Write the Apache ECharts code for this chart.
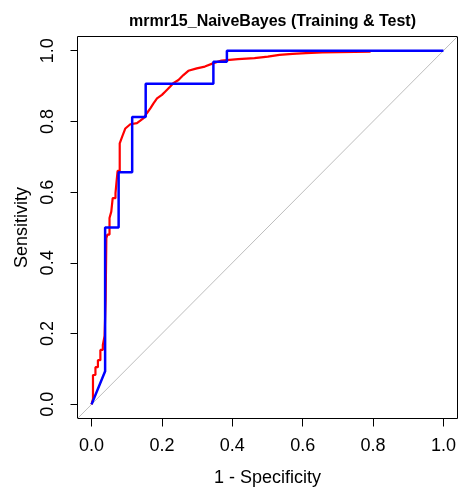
<!DOCTYPE html>
<html>
<head>
<meta charset="utf-8">
<script src="https://cdn.jsdelivr.net/npm/echarts@6/dist/echarts.min.js"></script>
<style>html,body{margin:0;padding:0;background:#fff;}#chart{width:459px;height:487px;}</style>
</head>
<body>
<div id="chart"></div>
<script>
const titleText = "mrmr15_NaiveBayes (Training & Test)";
const xName = "1 - Specificity";
const yName = "Sensitivity";
const tickValues = [0, 0.2, 0.4, 0.6, 0.8, 1.0];

// Training ROC (red): 1 - specificity
const trainX = [0.0, 0.004, 0.004, 0.011, 0.011, 0.018, 0.018, 0.025, 0.025, 0.032, 0.032, 0.037, 0.037, 0.040, 0.040, 0.042, 0.042, 0.045, 0.045, 0.051, 0.051, 0.056, 0.056, 0.060, 0.060, 0.068, 0.068, 0.071, 0.071, 0.074, 0.074, 0.080, 0.080, 0.087, 0.096, 0.110, 0.129, 0.148, 0.157, 0.167, 0.176, 0.186, 0.200, 0.209, 0.223, 0.232, 0.247, 0.261, 0.275, 0.299, 0.322, 0.345, 0.369, 0.416, 0.463, 0.501, 0.534, 0.571, 0.609, 0.656, 0.793];
// Training ROC (red): sensitivity
const trainY = [0.0, 0.015, 0.083, 0.083, 0.105, 0.105, 0.125, 0.125, 0.154, 0.154, 0.168, 0.168, 0.193, 0.193, 0.297, 0.297, 0.470, 0.470, 0.480, 0.480, 0.527, 0.527, 0.545, 0.545, 0.583, 0.583, 0.597, 0.597, 0.630, 0.630, 0.660, 0.660, 0.738, 0.757, 0.780, 0.792, 0.795, 0.809, 0.823, 0.837, 0.851, 0.865, 0.875, 0.884, 0.898, 0.908, 0.917, 0.931, 0.943, 0.950, 0.955, 0.964, 0.972, 0.976, 0.979, 0.983, 0.988, 0.991, 0.993, 0.995, 0.997];

// Test ROC (blue)
const testX = [0.0, 0.0385, 0.0385, 0.0769, 0.0769, 0.1154, 0.1154, 0.1538, 0.1538, 0.3462, 0.3462, 0.3846, 0.3846, 1.0];
const testY = [0.0, 0.0938, 0.5, 0.5, 0.6563, 0.6563, 0.8125, 0.8125, 0.9063, 0.9063, 0.9688, 0.9688, 1.0, 1.0];

// chance diagonal
const diagX = [-0.04, 1.04];
const diagY = [-0.04, 1.04];

const zip = (a, b) => a.map((v, i) => [v, b[i]]);
const font = "'Liberation Sans', Arial, Helvetica, sans-serif";

const chart = echarts.init(document.getElementById('chart'), null, {renderer: 'canvas'});
chart.setOption({
  animation: false,
  backgroundColor: '#ffffff',
  title: {
    text: titleText,
    left: 267.5, top: 9, textAlign: 'center',
    textStyle: {fontFamily: font, fontSize: 16, fontWeight: 'bold', color: '#000'}
  },
  grid: {
    left: 77.5, top: 36.5, width: 380, height: 382,
    show: true, borderColor: '#000', borderWidth: 1, backgroundColor: 'transparent',
    outerBoundsMode: 'none', containLabel: false
  },
  xAxis: {
    type: 'value', min: -0.04, max: 1.04,
    name: xName, nameLocation: 'middle', nameGap: 51,
    nameTextStyle: {fontFamily: font, fontSize: 18, color: '#000'},
    axisLine: {show: false, onZero: false},
    splitLine: {show: false},
    axisTick: {show: true, length: 8, customValues: tickValues, lineStyle: {color: '#000', width: 1}},
    axisLabel: {customValues: tickValues, margin: 19, fontFamily: font, fontSize: 18, color: '#000',
      formatter: v => v.toFixed(1)}
  },
  yAxis: {
    type: 'value', min: -0.04, max: 1.04,
    name: yName, nameLocation: 'middle', nameGap: 46,
    nameTextStyle: {fontFamily: font, fontSize: 18, color: '#000'},
    axisLine: {show: false, onZero: false},
    splitLine: {show: false},
    axisTick: {show: true, length: 7, customValues: tickValues, lineStyle: {color: '#000', width: 1}},
    axisLabel: {customValues: tickValues, rotate: 90, align: 'center', verticalAlign: 'bottom', margin: 20,
      fontFamily: font, fontSize: 18, color: '#000',
      formatter: v => v.toFixed(1)}
  },
  series: [
    {type: 'line', data: zip(diagX, diagY), symbol: 'none', lineStyle: {color: '#bdbdbd', width: 1}, clip: true, silent: true},
    {type: 'line', data: zip(trainX, trainY), symbol: 'none', lineStyle: {color: '#ff0000', width: 2.2}, clip: true},
    {type: 'line', data: zip(testX, testY), symbol: 'none', lineStyle: {color: '#0000ff', width: 2.5}, clip: true}
  ]
});
</script>
</body>
</html>
